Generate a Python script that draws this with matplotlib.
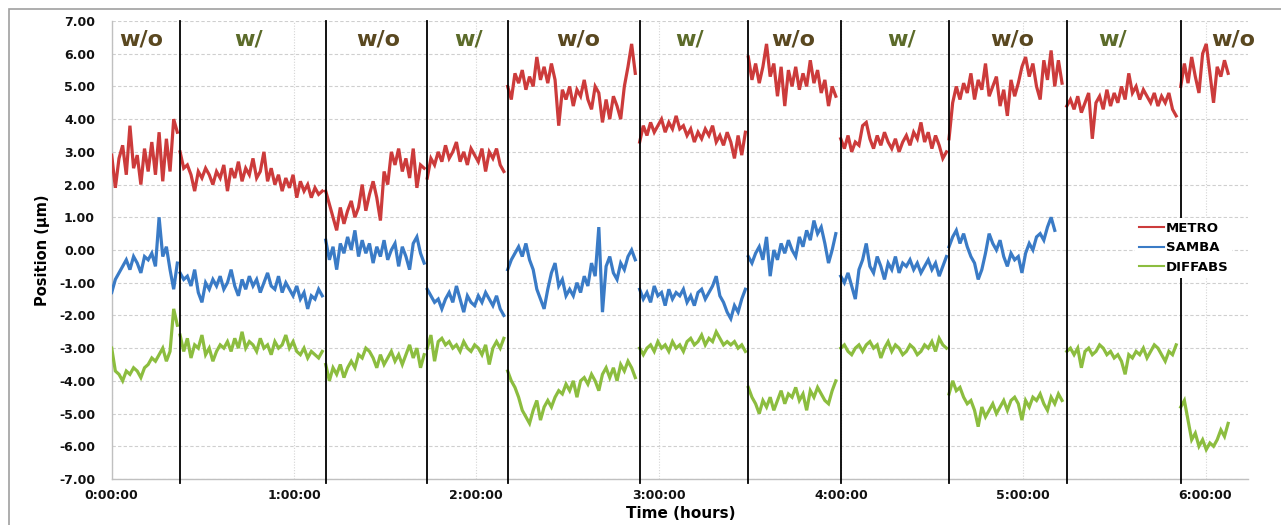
import numpy as np
import matplotlib
matplotlib.use("Agg")
import matplotlib.pyplot as plt
from matplotlib.patches import Rectangle

# ---------------- data ----------------
DT = 0.02  # sampling interval (hours)
segment_starts = [0.0, 0.375, 1.174, 1.731, 2.172, 2.896, 3.492, 3.999, 4.593, 5.239, 5.864]
segment_bounds = [0.375, 1.174, 1.731, 2.172, 2.896, 3.492, 3.999, 4.593, 5.239, 5.864]
segment_labels = ["w/o", "w/", "w/o", "w/", "w/o", "w/", "w/o", "w/", "w/o", "w/", "w/o"]
label_x = [0.16, 0.75, 1.46, 1.96, 2.56, 3.17, 3.74, 4.33, 4.94, 5.49, 6.15]

metro = [
    [2.9, 1.9, 2.8, 3.2, 2.3, 3.8, 2.5, 2.9, 2.0, 3.1, 2.4, 3.3, 2.3, 3.6, 2.1, 3.4, 2.4, 4.0, 3.6],
    [3.0, 2.5, 2.6, 2.3, 1.8, 2.4, 2.2, 2.5, 2.3, 2.0, 2.4, 2.2, 2.6, 1.8, 2.5, 2.2, 2.7, 2.1, 2.5, 2.3,
     2.8, 2.2, 2.4, 3.0, 2.1, 2.5, 2.0, 2.3, 1.8, 2.2, 1.9, 2.3, 1.6, 2.1, 1.8, 2.0, 1.6, 1.9, 1.7, 1.8],
    [1.8, 1.4, 1.0, 0.6, 1.3, 0.8, 1.2, 1.5, 1.0, 1.3, 2.0, 1.2, 1.7, 2.1, 1.6, 0.9, 2.4, 2.0, 3.0, 2.6,
     3.1, 2.4, 2.8, 2.2, 3.1, 1.9, 2.6, 2.5],
    [2.2, 2.8, 2.6, 3.0, 2.7, 3.2, 2.8, 3.0, 3.3, 2.7, 3.0, 2.6, 3.1, 2.9, 2.7, 3.1, 2.4, 3.0, 2.8, 3.1,
     2.6, 2.4],
    [5.0, 4.6, 5.4, 5.1, 5.5, 4.9, 5.3, 5.0, 5.9, 5.2, 5.6, 5.1, 5.7, 5.2, 3.8, 4.9, 4.6, 5.0, 4.4, 4.9,
     4.7, 5.2, 4.6, 4.3, 5.0, 4.8, 3.9, 4.6, 4.0, 4.7, 4.4, 4.0, 5.0, 5.6, 6.3, 5.4],
    [3.3, 3.8, 3.5, 3.9, 3.6, 3.8, 4.0, 3.6, 3.9, 3.7, 4.1, 3.7, 3.8, 3.5, 3.7, 3.3, 3.6, 3.4, 3.7, 3.5,
     3.8, 3.3, 3.5, 3.2, 3.6, 3.3, 2.8, 3.5, 2.9, 3.6],
    [5.9, 5.2, 5.7, 5.1, 5.6, 6.3, 5.3, 5.7, 4.7, 5.6, 4.4, 5.5, 5.0, 5.6, 4.9, 5.4, 5.0, 5.8, 5.1, 5.5,
     4.8, 5.2, 4.4, 5.0, 4.7],
    [3.4, 3.1, 3.5, 3.0, 3.3, 3.2, 3.8, 3.9, 3.4, 3.1, 3.5, 3.2, 3.6, 3.3, 3.1, 3.4, 3.0, 3.3, 3.5, 3.2,
     3.6, 3.4, 3.9, 3.3, 3.6, 3.1, 3.5, 3.2, 2.8, 3.0],
    [3.4, 4.5, 5.0, 4.6, 5.1, 4.8, 5.4, 4.6, 5.2, 4.9, 5.7, 4.7, 5.0, 5.3, 4.4, 4.9, 4.1, 5.2, 4.7, 5.1,
     5.6, 5.9, 5.3, 5.7, 5.0, 4.6, 5.8, 5.2, 6.1, 5.0, 5.8, 5.1],
    [4.4, 4.6, 4.3, 4.7, 4.2, 4.5, 4.8, 3.4, 4.5, 4.7, 4.3, 4.9, 4.4, 4.8, 4.5, 5.0, 4.6, 5.4, 4.8, 5.0,
     4.6, 4.9, 4.7, 4.5, 4.8, 4.4, 4.7, 4.5, 4.8, 4.3, 4.1],
    [5.0, 5.7, 5.1, 5.9, 5.3, 4.8, 6.0, 6.3, 5.4, 4.5, 5.6, 5.3, 5.8, 5.4],
]

samba = [
    [-1.3, -0.9, -0.7, -0.5, -0.3, -0.6, -0.2, -0.4, -0.7, -0.2, -0.3, -0.1, -0.5, 1.0, -0.2, 0.1, -0.6, -1.2, -0.4],
    [-0.7, -0.9, -0.8, -1.1, -0.6, -1.3, -1.6, -1.0, -1.2, -0.9, -1.1, -0.8, -1.2, -1.0, -0.6, -1.1, -1.4, -0.9, -1.2, -0.8,
     -1.1, -0.9, -1.3, -1.0, -0.7, -1.1, -1.2, -0.8, -1.3, -1.0, -1.2, -1.4, -1.1, -1.5, -1.3, -1.8, -1.4, -1.5, -1.2, -1.4],
    [0.3, -0.3, 0.1, -0.6, 0.2, -0.1, 0.4, 0.0, 0.6, -0.2, 0.3, -0.1, 0.2, -0.4, 0.1, -0.2, 0.3, -0.3, 0.0, 0.2,
     -0.5, 0.1, -0.2, -0.6, 0.2, 0.4, -0.1, -0.4],
    [-1.2, -1.4, -1.6, -1.5, -1.8, -1.5, -1.3, -1.6, -1.1, -1.5, -1.9, -1.4, -1.6, -1.7, -1.4, -1.6, -1.3, -1.5, -1.7, -1.4,
     -1.8, -2.0],
    [-0.6, -0.3, -0.1, 0.1, -0.2, 0.2, -0.3, -0.6, -1.2, -1.5, -1.8, -1.2, -0.7, -0.4, -1.1, -0.9, -1.4, -1.2, -1.4, -1.0,
     -1.3, -0.8, -1.1, -0.4, -0.8, 0.7, -1.9, -0.5, -0.2, -0.7, -0.9, -0.4, -0.6, -0.2, 0.0, -0.3],
    [-1.2, -1.5, -1.3, -1.6, -1.1, -1.4, -1.3, -1.7, -1.2, -1.5, -1.3, -1.4, -1.2, -1.6, -1.4, -1.7, -1.3, -1.2, -1.5, -1.3,
     -1.1, -0.8, -1.4, -1.6, -1.9, -2.1, -1.7, -1.9, -1.5, -1.2],
    [-0.2, -0.4, -0.1, 0.1, -0.3, 0.4, -0.8, 0.0, -0.3, 0.2, -0.1, 0.3, 0.0, -0.2, 0.4, 0.1, 0.6, 0.3, 0.9, 0.5,
     0.7, 0.2, -0.4, 0.0, 0.5],
    [-0.8, -1.0, -0.7, -1.1, -1.5, -0.6, -0.3, 0.2, -0.5, -0.7, -0.2, -0.5, -0.9, -0.4, -0.6, -0.2, -0.7, -0.4, -0.5, -0.3,
     -0.6, -0.4, -0.7, -0.5, -0.3, -0.6, -0.4, -0.8, -0.5, -0.2],
    [0.1, 0.4, 0.6, 0.2, 0.5, 0.1, -0.2, -0.4, -0.9, -0.6, -0.1, 0.5, 0.2, 0.0, 0.3, -0.2, -0.5, -0.1, -0.3, -0.2,
     -0.7, -0.1, 0.2, 0.0, 0.4, 0.5, 0.3, 0.7, 1.0, 0.6],
    [],
    [],
]

diffabs = [
    [-3.0, -3.7, -3.8, -4.0, -3.7, -3.8, -3.6, -3.7, -3.9, -3.6, -3.5, -3.3, -3.4, -3.2, -3.0, -3.4, -3.1, -1.8, -2.3],
    [-2.6, -3.1, -2.7, -3.3, -2.9, -3.0, -2.6, -3.2, -3.0, -3.4, -3.1, -2.9, -3.0, -2.8, -3.1, -2.7, -3.0, -2.5, -3.0, -2.8,
     -2.9, -3.1, -2.7, -3.0, -2.9, -3.2, -2.8, -3.0, -2.9, -2.6, -3.0, -2.8, -3.1, -3.2, -3.0, -3.3, -3.1, -3.2, -3.3, -3.1],
    [-3.5, -4.0, -3.6, -3.8, -3.5, -3.9, -3.6, -3.4, -3.6, -3.2, -3.3, -3.0, -3.1, -3.3, -3.6, -3.2, -3.5, -3.3, -3.1, -3.4,
     -3.2, -3.5, -3.2, -2.9, -3.3, -3.0, -3.6, -3.2],
    [-3.0, -2.6, -3.4, -2.8, -2.7, -2.9, -2.8, -3.0, -2.9, -3.1, -2.8, -3.0, -3.1, -2.9, -3.0, -3.2, -2.9, -3.5, -3.0, -2.8,
     -3.0, -2.7],
    [-3.7, -4.0, -4.2, -4.5, -4.9, -5.1, -5.3, -4.9, -4.6, -5.2, -4.8, -4.6, -4.8, -4.5, -4.3, -4.4, -4.1, -4.3, -4.0, -4.5,
     -4.0, -3.9, -4.1, -3.8, -4.0, -4.3, -3.8, -3.6, -3.9, -3.6, -4.0, -3.5, -3.7, -3.4, -3.6, -3.9],
    [-3.0, -3.2, -3.0, -2.9, -3.1, -2.8, -3.0, -2.9, -3.1, -2.8, -3.0, -2.9, -3.1, -2.8, -2.7, -2.9, -2.8, -2.6, -2.9, -2.7,
     -2.8, -2.5, -2.7, -2.9, -2.8, -2.9, -2.8, -3.0, -2.9, -3.1],
    [-4.2, -4.5, -4.7, -5.0, -4.6, -4.8, -4.5, -4.9, -4.6, -4.3, -4.7, -4.4, -4.5, -4.2, -4.6, -4.4, -4.9, -4.3, -4.5, -4.2,
     -4.4, -4.6, -4.7, -4.3, -4.0],
    [-3.0, -2.9, -3.1, -3.2, -3.0, -2.9, -3.1, -2.9, -2.8, -3.0, -2.9, -3.3, -3.0, -2.8, -3.1, -2.9, -3.0, -3.2, -3.1, -2.9,
     -3.0, -3.2, -3.1, -2.9, -3.0, -2.8, -3.1, -2.7, -2.9, -3.0],
    [-4.4, -4.0, -4.3, -4.2, -4.5, -4.7, -4.6, -4.9, -5.4, -4.8, -5.1, -4.9, -4.7, -5.0, -4.8, -4.6, -4.9, -4.6, -4.5, -4.7,
     -5.2, -4.6, -4.8, -4.5, -4.6, -4.4, -4.7, -4.9, -4.5, -4.7, -4.4, -4.6],
    [-3.1, -3.0, -3.2, -3.0, -3.6, -3.1, -3.0, -3.2, -3.1, -2.9, -3.0, -3.2, -3.1, -3.3, -3.2, -3.4, -3.8, -3.2, -3.3, -3.1,
     -3.2, -3.0, -3.3, -3.1, -2.9, -3.0, -3.2, -3.4, -3.1, -3.2, -2.9],
    [-4.8, -4.6, -5.2, -5.8, -5.6, -6.0, -5.8, -6.1, -5.9, -6.0, -5.8, -5.5, -5.7, -5.3],
]

series_names = ["METRO", "SAMBA", "DIFFABS"]
series_colors = ["#cc3b3b", "#3a7bc6", "#8cbd3f"]
hour_ticks = [0, 1, 2, 3, 4, 5, 6]
hour_labels = ["0:00:00", "1:00:00", "2:00:00", "3:00:00", "4:00:00", "5:00:00", "6:00:00"]
y_ticks = [-7, -6, -5, -4, -3, -2, -1, 0, 1, 2, 3, 4, 5, 6, 7]


def build(segs):
    xs, ys = [], []
    for start, vals in zip(segment_starts, segs):
        if not vals:
            continue
        t = start + DT * np.arange(len(vals))
        xs.extend(list(t) + [np.nan])
        ys.extend(list(vals) + [np.nan])
    return np.array(xs), np.array(ys)


W, H = 1281, 525
fig = plt.figure(figsize=(W / 100, H / 100), dpi=100)
fig.patch.set_facecolor("white")
# outer frame
fig.add_artist(Rectangle((9 / W, -0.1), 1.2, 1 - 9 / H + 0.1, transform=fig.transFigure,
                         fill=False, edgecolor="#a0a0a0", lw=1.2))

ax = fig.add_axes([111.7 / W, 1 - 479 / H, (1248 - 111.7) / W, (479 - 21) / H])
ax.set_xlim(0, 6.233)
ax.set_ylim(-7, 7)

for segs, name, col in zip([metro, samba, diffabs], series_names, series_colors):
    x, y = build(segs)
    ax.plot(x, y, color=col, lw=2.3, label=name, solid_joinstyle="miter", zorder=3)

for b in segment_bounds:
    ax.axvline(b, ymin=-0.008, ymax=1.0, color="black", lw=1.3, zorder=4, clip_on=False)

label_colors = {"w/o": "#5a4820", "w/": "#5c6b2a"}
for lx, lab in zip(label_x, segment_labels):
    ax.text(lx, 6.42, lab, ha="center", va="center", fontsize=16, fontweight="bold",
            family="DejaVu Sans", color=label_colors[lab], zorder=5, clip_on=False)

ax.set_yticks(y_ticks)
ax.set_yticklabels([f"{v:.2f}" for v in y_ticks])
ax.set_xticks(hour_ticks)
ax.set_xticklabels(hour_labels)
ax.tick_params(axis="both", length=0, labelsize=9, colors="#111111")
ax.tick_params(axis="y", pad=12)
ax.tick_params(axis="x", pad=7)
for lbl in ax.get_xticklabels() + ax.get_yticklabels():
    lbl.set_fontweight("bold")

ax.grid(axis="y", color="#cfcfcf", lw=0.8, ls=(0, (3, 2)))
ax.grid(axis="x", color="#d5d5d5", lw=0.8, ls=(0, (1, 1.5)))
ax.set_axisbelow(True)
for s in ["top", "right"]:
    ax.spines[s].set_visible(False)
for s in ["left", "bottom"]:
    ax.spines[s].set_color("#c0c0c0")
    ax.spines[s].set_linewidth(1.0)

leg = ax.legend(loc="upper left", bbox_to_anchor=(0.895, 0.585), frameon=True, fancybox=False,
                framealpha=1, edgecolor="none", handlelength=1.9, handletextpad=0.1,
                borderpad=0.3, labelspacing=0.5, prop={"weight": "bold", "size": 9.5})
for line in leg.get_lines():
    line.set_linewidth(1.5)
leg.set_zorder(10)

fig.text(681 / W, 1 - 513 / H, "Time (hours)", ha="center", va="center", fontsize=11, fontweight="bold")
fig.text(42 / W, 1 - 250 / H, "Position (µm)", ha="center", va="center", rotation=90,
         fontsize=10.5, fontweight="bold",
         family=["DejaVu Sans Condensed", "Liberation Sans Narrow", "DejaVu Sans"])

fig.savefig("out.png", dpi=100)
